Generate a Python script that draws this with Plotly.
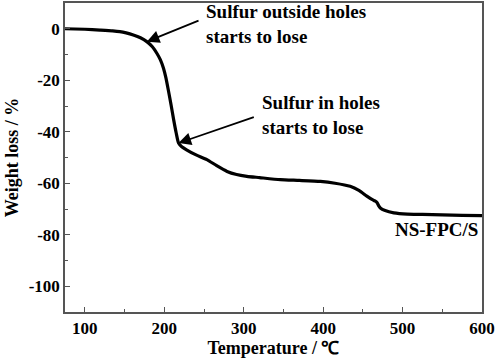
import plotly.graph_objects as go

temperature = [75, 100, 119, 135, 144, 152, 161, 170, 178, 185, 190.6, 195, 199, 202, 205, 208.5, 211.6, 215, 218, 222, 228, 240, 253.7, 266, 279, 291, 304, 320, 346, 370, 396.5, 415, 434, 445, 455, 462, 466, 468, 470, 472, 478, 489, 506, 525, 550, 575, 600]
weight_loss = [0, -0.2, -0.5, -0.8, -1.1, -1.6, -2.4, -3.5, -5.0, -7.0, -9.5, -12.0, -15.3, -19.0, -23.7, -29.5, -35.0, -40.5, -44.4, -45.8, -47.0, -49.0, -50.8, -53.2, -55.4, -56.6, -57.3, -57.8, -58.6, -58.9, -59.3, -60.0, -61.2, -62.8, -65.0, -66.4, -67.0, -67.6, -68.8, -69.6, -70.6, -71.5, -72.0, -72.1, -72.3, -72.5, -72.6]

x_ticks = [100, 200, 300, 400, 500, 600]
y_ticks = [0, -20, -40, -60, -80, -100]
y_tick_labels = ["0", "-20", "-40", "-60", "-80", "-100"]

font = "Liberation Serif"
axis_col = "#555555"

fig = go.Figure()
fig.add_trace(go.Scatter(x=temperature, y=weight_loss, mode="lines",
                         line=dict(color="black", width=3.2, shape="spline", smoothing=0.6),
                         showlegend=False))

fig.update_layout(
    width=498, height=358,
    margin=dict(l=65, r=16, t=3, b=46),
    paper_bgcolor="white", plot_bgcolor="white",
    font=dict(family=font, size=17, color="black"),
    xaxis=dict(range=[75, 600], tickvals=x_ticks, ticks="inside", ticklen=5, tickwidth=1.3,
               tickcolor=axis_col, showline=True, linecolor=axis_col, linewidth=1.5, mirror=True,
               showgrid=False, zeroline=False, automargin=False,
               minor=dict(dtick=50, ticks="inside", ticklen=3, tickcolor=axis_col, tickwidth=1.2),
               tickfont=dict(family=font, size=17, color="black", weight="bold"),
               title=dict(text="<b>Temperature / ℃</b>", standoff=0,
                          font=dict(family=font, size=18))),
    yaxis=dict(range=[-110, 10], tickvals=y_ticks, ticktext=y_tick_labels, ticks="inside",
               ticklen=5, tickwidth=1.3,
               tickcolor=axis_col, showline=True, linecolor=axis_col, linewidth=1.5, mirror=True,
               showgrid=False, zeroline=False, automargin=False,
               minor=dict(dtick=10, ticks="inside", ticklen=3, tickcolor=axis_col, tickwidth=1.2),
               tickfont=dict(family=font, size=17, color="black", weight="bold"),
               title=dict(text="<b>Weight loss / %</b>", standoff=5,
                          font=dict(family=font, size=18))),
)

fig.add_annotation(x=178, y=-5, ax=245, ay=3.4, axref="x", ayref="y", xref="x", yref="y",
                   text="", showarrow=True, arrowhead=2, arrowsize=1.4, arrowwidth=1.8,
                   arrowcolor="black")
fig.add_annotation(x=217.9, y=-44.4, ax=314.6, ay=-34.1, axref="x", ayref="y", xref="x", yref="y",
                   text="", showarrow=True, arrowhead=2, arrowsize=1.4, arrowwidth=1.8,
                   arrowcolor="black")
fig.add_annotation(x=250, y=2.0, xref="x", yref="y", xanchor="left", yanchor="middle",
                   align="left", showarrow=False,
                   text="<b>Sulfur outside holes<br>starts to lose</b>",
                   font=dict(family=font, size=19, color="black"))
fig.add_annotation(x=321, y=-33.4, xref="x", yref="y", xanchor="left", yanchor="middle",
                   align="left", showarrow=False,
                   text="<b>Sulfur in holes<br>starts to lose</b>",
                   font=dict(family=font, size=19, color="black"))
fig.add_annotation(x=597, y=-78, xref="x", yref="y", xanchor="right", yanchor="middle",
                   showarrow=False, text="<b>NS-FPC/S</b>",
                   font=dict(family=font, size=19, color="black"))

fig.write_html("out.html", config={"displayModeBar": False},
               post_script="document.body.style.margin='0';")
